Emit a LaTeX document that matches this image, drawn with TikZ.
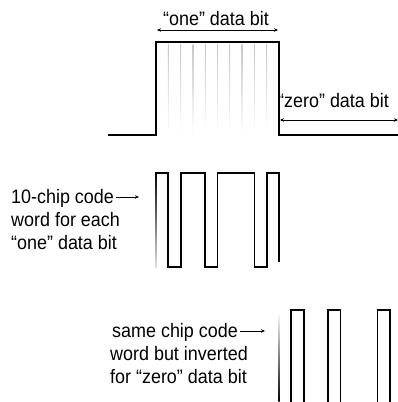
\documentclass[tikz,border=0pt]{standalone}
\usepackage{fontspec}
\setmainfont{Liberation Sans}[FakeStretch=0.92]
\usetikzlibrary{arrows.meta}

\begin{document}
\begin{tikzpicture}[x=1pt,y=-1pt,
  wave/.style={line width=1.8pt},
  lbl/.style={font=\fontsize{19.5}{23}\selectfont, inner sep=0pt, anchor=base west},
  span/.style={{Stealth[length=4pt,width=3.5pt]}-{Stealth[length=4pt,width=3.5pt]}, line width=0.6pt},
  tip/.style={-{Stealth[length=4pt,width=3.5pt]}, line width=0.6pt}]
\useasboundingbox (0,0) rectangle (398,402);
% data bits
\coordinate (b0) at (108,135);
\coordinate (b1) at (156,135);
\coordinate (b2) at (156,42);
\coordinate (b3) at (279,42);
\coordinate (b4) at (279,135);
\coordinate (b5) at (398,135);
\foreach \i in {1,...,9}
  \shade[top color=gray!45, bottom color=white] ({156+12.3*\i-0.4},44) rectangle ({156+12.3*\i+0.4},134);
\draw[wave] (b0) -- (b1) -- (b2) -- (b3) -- (b4) -- (b5);
\node[lbl, anchor=base] (onebit) at (216,25) {“one” data bit};
\coordinate (o1) at (157,30);
\coordinate (o2) at (278,30);
\draw[span] (o1) -- (o2);
\node[lbl] (zerobit) at (278,107) {“zero” data bit};
\coordinate (z1) at (280,120);
\coordinate (z2) at (398,120);
\draw[span] (z1) -- (z2);
% chip code word
\shade[top color=black, bottom color=gray!25] (155.1,172.1) rectangle (156.9,267);
\draw[wave] (156,173) -- (168.3,173) -- (168.3,267) -- (180.6,267) -- (180.6,173)
  -- (205.2,173) -- (205.2,267) -- (217.5,267) -- (217.5,173) -- (254.4,173)
  -- (254.4,267) -- (266.7,267) -- (266.7,173) -- (279,173) -- (279,262);
\node[lbl] (code1) at (11,203) {10-chip code};
\node[lbl] (code2) at (11,226) {word for each};
\node[lbl] (code3) at (11,249) {“one” data bit};
\coordinate (c1) at (139,197);
\draw[tip] ([xshift=2pt,yshift=6pt]code1.base east) -- (c1);
% inverted code word
\shade[top color=white, bottom color=black] (278.4,312) rectangle (279.6,402);
\draw[wave] (291.3,403) -- (291.3,310) -- (303.6,310) -- (303.6,403);
\draw[wave] (328.2,403) -- (328.2,310) -- (340.5,310) -- (340.5,403);
\draw[wave] (377.4,403) -- (377.4,310) -- (389.7,310) -- (389.7,403);
\node[lbl] (inv1) at (112,337) {same chip code};
\node[lbl] (inv2) at (110,360) {word but inverted};
\node[lbl] (inv3) at (110,383) {for “zero” data bit};
\coordinate (c2) at (265,331);
\draw[tip] ([xshift=2pt,yshift=6pt]inv1.base east) -- (c2);
\end{tikzpicture}
\end{document}
